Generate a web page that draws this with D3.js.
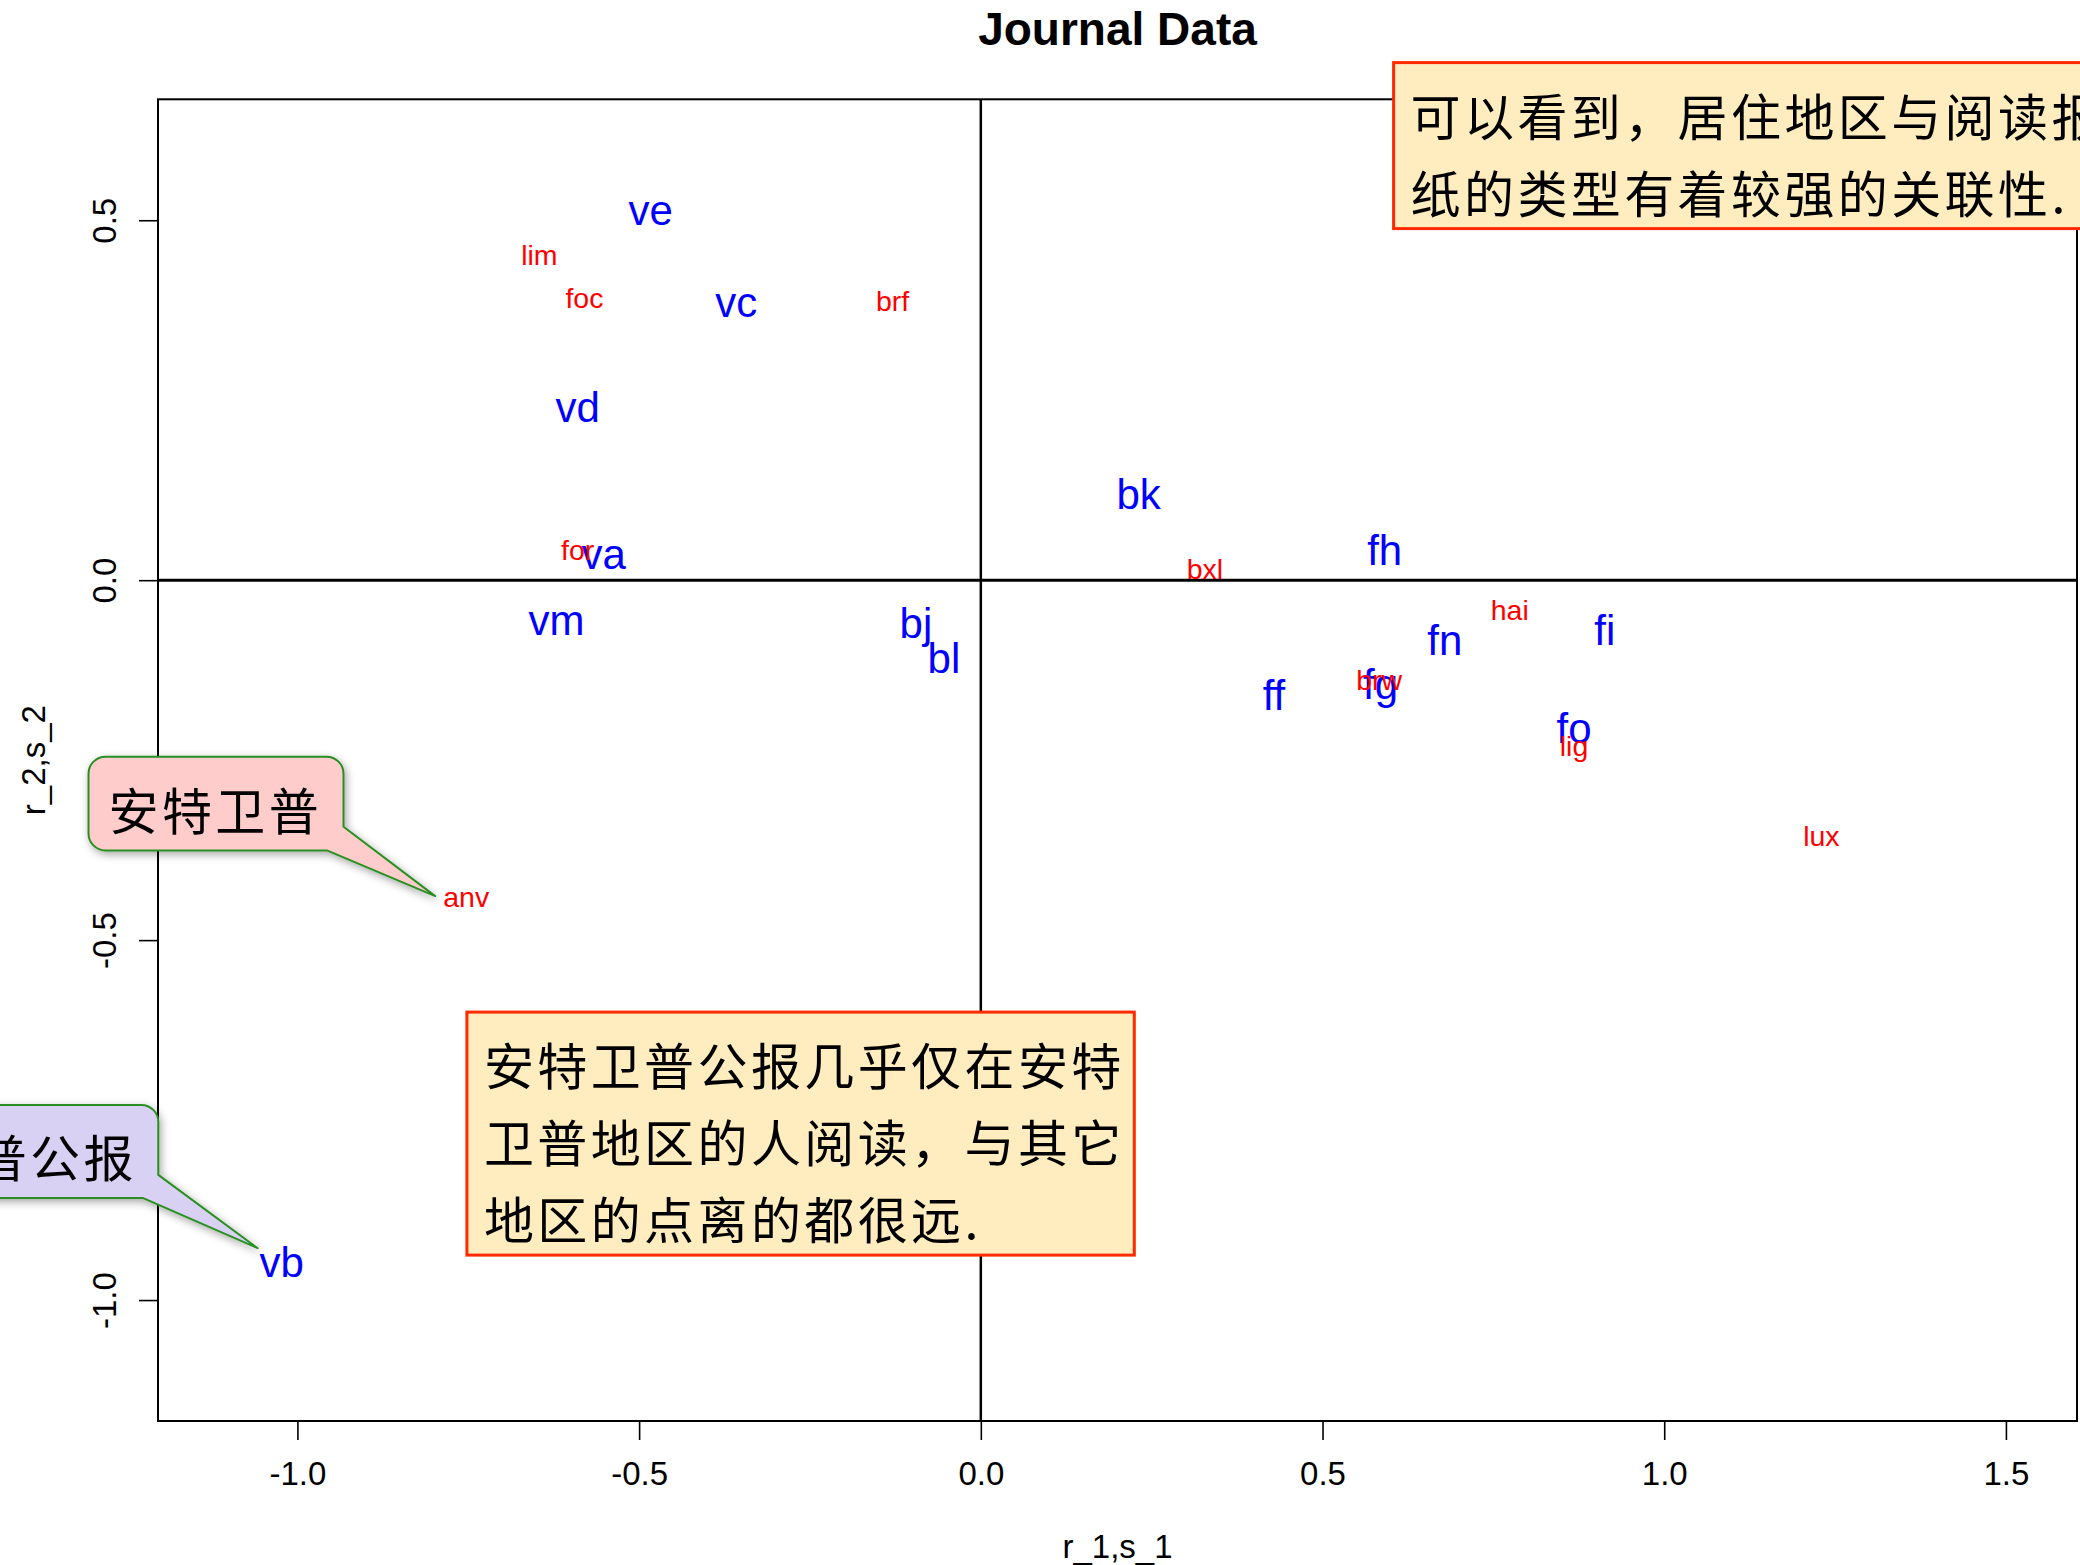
<!DOCTYPE html>
<html>
<head>
<meta charset="utf-8">
<script src="https://cdn.jsdelivr.net/npm/d3@7"></script>
<style>
  html, body { margin: 0; padding: 0; background: #fff; }
  svg { display: block; }
</style>
</head>
<body>
<script>
// Correspondence analysis of Belgian newspaper readership by region:
// journal (column) scores in blue, region (row) scores in red.
const journalLabels = ["ve", "vc", "vd", "va", "vm", "vb", "bj", "bl", "bk", "fh", "fi", "fn", "fg", "ff", "fo"];
const journalX = [-0.483, -0.358, -0.590, -0.552, -0.621, -1.023, -0.095, -0.054, 0.231, 0.591, 0.913, 0.679, 0.585, 0.429, 0.868];
const journalY = [0.510, 0.382, 0.241, 0.032, -0.060, -0.946, -0.065, -0.107, 0.121, 0.043, -0.069, -0.082, -0.150, -0.159, -0.204];

const regionLabels = ["lim", "foc", "brf", "for", "anv", "bxl", "hai", "brw", "lig", "lux"];
const regionX = [-0.646, -0.580, -0.129, -0.590, -0.753, 0.328, 0.774, 0.583, 0.868, 1.230];
const regionY = [0.452, 0.392, 0.388, 0.042, -0.443, 0.015, -0.042, -0.139, -0.234, -0.355];

const xTicks = [-1.0, -0.5, 0.0, 0.5, 1.0, 1.5];
const yTicks = [-1.0, -0.5, 0.0, 0.5];
const xLimits = [-1.1, 1.5];
const yLimits = [-1.1, 0.6];

const titleText = "Journal Data";
const xTitle = "r_1,s_1";
const yTitle = "r_2,s_2";

// Text boxes with commentary (top-left corner in data units)
const notes = [
  { lines: ["可以看到，居住地区与阅读报", "纸的类型有着较强的关联性."], x: 0.604, y: 0.719 },
  { lines: ["安特卫普公报几乎仅在安特", "卫普地区的人阅读，与其它", "地区的点离的都很远."], x: -0.752, y: -0.600 }
];

// Speech-bubble callouts pointing at single labels
const callouts = [
  { text: "安特卫普", target: "anv", fill: "#FFCCCC", tipNudge: [-31, -3], rightGap: 91.7, bottomGap: 45.7, height: 93.7, notchY: 23.7, notchX: 16.6 },
  { text: "安特卫普公报", target: "vb", fill: "#D9D1F4", tipNudge: [-24, -13], rightGap: 99.4, bottomGap: 50.3, height: 93, notchY: 23, notchX: 15.6 }
];

const W = 2080, H = 1565;
const plot = { left: 158, right: 2077, top: 99.3, bottom: 1421 };
const latin = '"Liberation Sans", Arial, Helvetica, sans-serif';
const cjk = '"Noto Sans CJK SC", "Noto Sans CJK JP", sans-serif';
const cjkSize = 50, cjkSpacing = 3.4, cjkAdvance = cjkSize + cjkSpacing;

// Base-graphics style 4% padding of the axis limits
function padRange([a, b]) { const d = (b - a) * 0.04; return [a - d, b + d]; }

const x = d3.scaleLinear().domain(padRange(xLimits)).range([plot.left, plot.right]);
const y = d3.scaleLinear().domain(padRange(yLimits)).range([plot.bottom, plot.top]);

const svg = d3.select("body").append("svg")
  .attr("width", W).attr("height", H)
  .attr("viewBox", `0 0 ${W} ${H}`);

const defs = svg.append("defs");
defs.append("filter").attr("id", "bubbleShadow")
  .attr("x", "-30%").attr("y", "-30%").attr("width", "160%").attr("height", "170%")
  .append("feDropShadow")
  .attr("dx", 2).attr("dy", 3).attr("stdDeviation", 4)
  .attr("flood-color", "#000").attr("flood-opacity", 0.35);

svg.append("rect").attr("width", W).attr("height", H).attr("fill", "#fff");

// Reference lines through the origin
svg.append("line")
  .attr("x1", plot.left).attr("x2", plot.right)
  .attr("y1", y(0)).attr("y2", y(0))
  .attr("stroke", "#000").attr("stroke-width", 3);
svg.append("line")
  .attr("x1", x(0)).attr("x2", x(0))
  .attr("y1", plot.top).attr("y2", plot.bottom)
  .attr("stroke", "#000").attr("stroke-width", 2.5);

// Plot frame
svg.append("rect")
  .attr("x", plot.left).attr("y", plot.top)
  .attr("width", plot.right - plot.left).attr("height", plot.bottom - plot.top)
  .attr("fill", "none").attr("stroke", "#000").attr("stroke-width", 2);

// Bottom axis
const xAxis = svg.append("g")
  .attr("transform", `translate(0,${plot.bottom})`)
  .call(d3.axisBottom(x).tickValues(xTicks).tickSize(19).tickPadding(22)
    .tickFormat(d => d.toFixed(1)));
xAxis.select(".domain").remove();
xAxis.selectAll(".tick line").attr("stroke", "#000").attr("stroke-width", 1.6);
xAxis.selectAll(".tick text")
  .attr("fill", "#000").style("font-family", latin).style("font-size", "33px");

// Left axis with labels rotated parallel to the axis
const yAxis = svg.append("g")
  .attr("transform", `translate(${plot.left},0)`)
  .call(d3.axisLeft(y).tickValues(yTicks).tickSize(19)
    .tickFormat(d => d.toFixed(1)));
yAxis.select(".domain").remove();
yAxis.selectAll(".tick line").attr("stroke", "#000").attr("stroke-width", 1.6);
yAxis.selectAll(".tick text")
  .attr("x", 0).attr("y", -42).attr("dy", null)
  .attr("transform", "rotate(-90)")
  .attr("text-anchor", "middle")
  .attr("fill", "#000").style("font-family", latin).style("font-size", "33px");

// Titles
const midX = (plot.left + plot.right) / 2;
svg.append("text").attr("x", midX).attr("y", 45)
  .attr("text-anchor", "middle")
  .style("font-family", latin).style("font-size", "46px").style("font-weight", "bold")
  .text(titleText);
svg.append("text").attr("x", midX).attr("y", 1558)
  .attr("text-anchor", "middle")
  .style("font-family", latin).style("font-size", "33px")
  .text(xTitle);
svg.append("text")
  .attr("transform", `translate(45,${(plot.top + plot.bottom) / 2}) rotate(-90)`)
  .attr("text-anchor", "middle")
  .style("font-family", latin).style("font-size", "33px")
  .text(yTitle);

// Labels are centred on their ink box, like base-graphics text()
const measureCtx = document.createElement("canvas").getContext("2d");
function inkShift(str, size) {
  measureCtx.font = `${size}px ${latin}`;
  const m = measureCtx.measureText(str);
  return (m.actualBoundingBoxAscent - m.actualBoundingBoxDescent) / 2;
}

const journals = journalLabels.map((l, i) => ({ label: l, x: journalX[i], y: journalY[i] }));
const regions = regionLabels.map((l, i) => ({ label: l, x: regionX[i], y: regionY[i] }));

function drawLabels(data, size, color) {
  svg.append("g").selectAll("text").data(data).join("text")
    .attr("x", d => x(d.x))
    .attr("y", d => y(d.y) + inkShift(d.label, size))
    .attr("text-anchor", "middle")
    .attr("fill", color)
    .style("font-family", latin).style("font-size", size + "px")
    .text(d => d.label);
}
drawLabels(journals, 42, "#0000FF");
drawLabels(regions, 28.5, "#FF0000");

// Commentary boxes
const padLeft = 17, padRight = 13, firstLine = 54, lineGap = 77, tailPad = 35;
notes.forEach(n => {
  const left = x(n.x), top = y(n.y);
  const maxChars = d3.max(n.lines, s => Array.from(s).length);
  const width = padLeft + maxChars * cjkAdvance - cjkSpacing + padRight;
  const height = firstLine + (n.lines.length - 1) * lineGap + tailPad;
  const g = svg.append("g");
  g.append("rect")
    .attr("x", left).attr("y", top).attr("width", width).attr("height", height)
    .attr("fill", "#FFEDC0").attr("stroke", "#FF2A00").attr("stroke-width", 3);
  g.selectAll("text").data(n.lines).join("text")
    .attr("x", left + padLeft)
    .attr("y", (d, i) => top + firstLine + i * lineGap + 0.38 * cjkSize)
    .style("font-family", cjk).style("font-size", cjkSize + "px")
    .style("letter-spacing", cjkSpacing + "px")
    .attr("fill", "#000")
    .text(d => d);
});

// Speech bubbles
const byLabel = new Map([...journals, ...regions].map(d => [d.label, d]));
callouts.forEach(c => {
  const p = byLabel.get(c.target);
  const tipX = x(p.x) + c.tipNudge[0], tipY = y(p.y) + c.tipNudge[1];
  const right = tipX - c.rightGap, bottom = tipY - c.bottomGap, top = bottom - c.height;
  const n = Array.from(c.text).length;
  const left = right - (41.4 + n * cjkAdvance);
  const r = 17;
  const path = d3.path();
  path.moveTo(left + r, top);
  path.lineTo(right - r, top);
  path.arcTo(right, top, right, top + r, r);
  path.lineTo(right, bottom - c.notchY);
  path.lineTo(tipX, tipY);
  path.lineTo(right - c.notchX, bottom);
  path.lineTo(left + r, bottom);
  path.arcTo(left, bottom, left, bottom - r, r);
  path.lineTo(left, top + r);
  path.arcTo(left, top, left + r, top, r);
  path.closePath();
  const g = svg.append("g");
  g.append("path").attr("d", path.toString())
    .attr("fill", c.fill).attr("stroke", "#2A8F22").attr("stroke-width", 2)
    .attr("stroke-linejoin", "round")
    .attr("filter", "url(#bubbleShadow)");
  g.append("text")
    .attr("x", left + 20)
    .attr("y", (top + bottom) / 2 + 7 + 0.38 * cjkSize)
    .style("font-family", cjk).style("font-size", cjkSize + "px")
    .style("letter-spacing", cjkSpacing + "px")
    .attr("fill", "#000")
    .text(c.text);
});
</script>
</body>
</html>
